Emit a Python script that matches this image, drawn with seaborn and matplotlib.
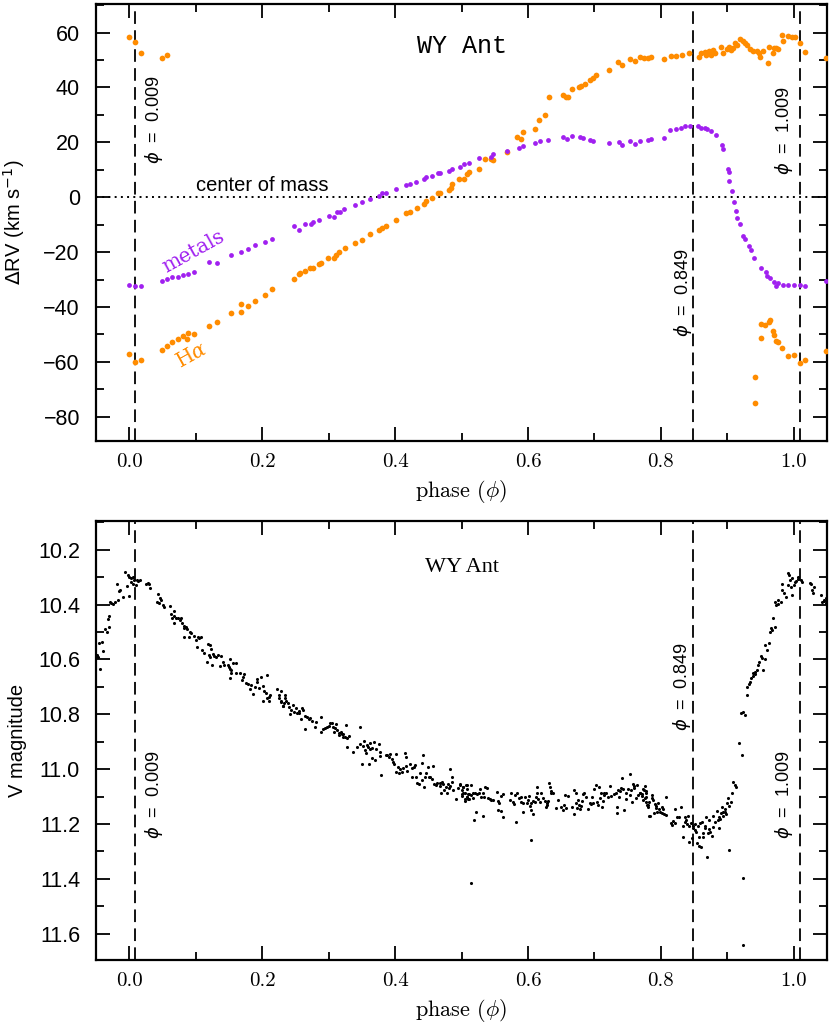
import numpy as np
import pandas as pd
import matplotlib
matplotlib.use("Agg")
import matplotlib.pyplot as plt
import seaborn as sns
from matplotlib.ticker import MultipleLocator, FuncFormatter

# ---- radial velocities (phase, km/s) ----
halpha = [
    (0.000, 58.3), (0.009, 56.4), (0.017, 52.7), (0.050, 50.8), (0.057, 52.0),
    (0.000, -57.2), (0.009, -60.2), (0.017, -59.3), (0.049, -55.8), (0.057, -54.2),
    (0.065, -52.6), (0.073, -51.6), (0.081, -50.6), (0.087, -51.8), (0.089, -49.6),
    (0.098, -50.0), (0.120, -46.8), (0.132, -45.4), (0.153, -42.3), (0.168, -41.7),
    (0.168, -39.0), (0.179, -39.8), (0.189, -37.8), (0.205, -35.5), (0.215, -33.4),
    (0.248, -29.8), (0.256, -28.1), (0.257, -27.6), (0.264, -26.8), (0.272, -25.7),
    (0.276, -25.7), (0.285, -24.5), (0.288, -23.9), (0.299, -22.1), (0.308, -22.3),
    (0.311, -21.2), (0.316, -20.1), (0.324, -18.5), (0.339, -16.8), (0.351, -15.4),
    (0.363, -13.4), (0.376, -12.0), (0.380, -11.1), (0.387, -10.5), (0.401, -8.2),
    (0.417, -5.9), (0.423, -5.2), (0.433, -3.9), (0.444, -2.4), (0.446, -1.5),
    (0.456, -0.2), (0.464, 1.7), (0.468, 1.7), (0.481, 2.7), (0.484, 3.2),
    (0.486, 4.9), (0.496, 6.6), (0.504, 6.5), (0.508, 8.3), (0.511, 9.3),
    (0.527, 10.2), (0.535, 14.1), (0.544, 13.9), (0.548, 13.4), (0.568, 16.5),
    (0.584, 22.1), (0.590, 21.4), (0.593, 23.6), (0.611, 24.9), (0.617, 28.3),
    (0.626, 30.1), (0.631, 36.6), (0.653, 37.4), (0.657, 36.6), (0.660, 36.7),
    (0.667, 39.3), (0.677, 40.0), (0.680, 40.7), (0.686, 41.4), (0.693, 42.8),
    (0.698, 43.3), (0.702, 44.6), (0.722, 46.4), (0.736, 49.3), (0.742, 48.1),
    (0.753, 50.5), (0.761, 49.6), (0.768, 51.1), (0.774, 50.9), (0.780, 50.7),
    (0.785, 51.0), (0.805, 50.5), (0.815, 51.5), (0.823, 51.5), (0.832, 52.0),
    (0.843, 52.4), (0.858, 51.1), (0.860, 52.7), (0.866, 52.9), (0.868, 51.7),
    (0.873, 53.3), (0.876, 51.7), (0.879, 53.7), (0.882, 52.5), (0.891, 54.7),
    (0.893, 52.5), (0.899, 53.9), (0.902, 54.7), (0.905, 53.6), (0.909, 54.4),
    (0.912, 56.1), (0.915, 55.4), (0.919, 57.6), (0.923, 57.0), (0.926, 56.1),
    (0.930, 55.4), (0.934, 53.9), (0.938, 53.1), (0.944, 53.1), (0.947, 52.5),
    (0.949, 51.1), (0.953, 53.2), (0.961, 48.8), (0.963, 54.9), (0.968, 52.7),
    (0.970, 54.2), (0.974, 54.2), (0.977, 53.9), (0.982, 59.0), (0.984, 56.8),
    (0.991, 58.6), (0.997, 58.4), (1.002, 58.4), (1.009, 56.2), (1.017, 52.8),
    (1.048, 50.8),
    (0.942, -65.4), (0.942, -74.9), (0.950, -51.4), (0.950, -46.3), (0.956, -46.6),
    (0.962, -45.4), (0.964, -44.8), (0.968, -48.9), (0.970, -50.2), (0.973, -52.3),
    (0.977, -52.7), (0.983, -54.8), (0.992, -58.0), (1.000, -57.3), (1.009, -60.3),
    (1.017, -59.4), (1.048, -55.9),
]

metals = [
    (0.000, -32.0), (0.009, -32.2), (0.017, -32.3), (0.050, -30.4), (0.057, -29.8),
    (0.065, -29.2), (0.073, -28.9), (0.081, -28.2), (0.089, -27.9), (0.097, -27.4),
    (0.120, -23.5), (0.132, -24.0), (0.153, -21.0), (0.168, -20.1), (0.179, -19.0),
    (0.189, -17.4), (0.205, -16.2), (0.215, -15.3), (0.248, -10.6), (0.256, -12.0),
    (0.265, -9.7), (0.273, -9.7), (0.276, -9.0), (0.286, -8.3), (0.300, -6.8),
    (0.308, -7.1), (0.312, -5.4), (0.317, -5.3), (0.323, -4.3), (0.339, -2.9),
    (0.351, -1.8), (0.363, -0.7), (0.376, 0.5), (0.380, 1.4), (0.387, 1.6),
    (0.402, 3.1), (0.417, 4.5), (0.422, 5.0), (0.432, 5.6), (0.444, 6.6),
    (0.447, 7.2), (0.456, 7.6), (0.464, 8.7), (0.468, 8.9), (0.481, 9.6),
    (0.485, 10.3), (0.498, 11.0), (0.504, 12.1), (0.511, 12.3), (0.527, 14.2),
    (0.544, 14.6), (0.548, 15.6), (0.568, 16.8), (0.587, 18.0), (0.593, 18.6),
    (0.611, 19.7), (0.618, 20.4), (0.630, 20.9), (0.653, 22.0), (0.659, 21.4),
    (0.667, 22.2), (0.678, 21.8), (0.683, 21.5), (0.693, 20.9), (0.698, 20.4),
    (0.722, 19.9), (0.737, 20.2), (0.741, 19.2), (0.754, 20.4), (0.761, 19.4),
    (0.768, 20.4), (0.780, 20.9), (0.785, 21.4), (0.805, 21.6), (0.814, 24.5),
    (0.823, 24.9), (0.831, 25.4), (0.837, 25.8), (0.844, 26.0), (0.856, 26.0),
    (0.860, 25.3), (0.866, 25.3), (0.870, 24.8), (0.876, 24.3), (0.883, 22.7),
    (0.892, 19.1), (0.894, 17.4), (0.901, 10.2), (0.903, 9.3), (0.903, 6.0),
    (0.907, 2.1), (0.910, -1.7), (0.913, -5.1), (0.915, -7.7), (0.919, -9.9),
    (0.924, -14.3), (0.926, -15.3), (0.932, -17.6), (0.935, -19.3), (0.940, -22.2),
    (0.950, -25.6), (0.958, -27.4), (0.960, -28.8), (0.964, -29.3), (0.970, -31.0),
    (0.973, -32.3), (0.977, -31.4), (0.984, -32.0), (0.991, -31.9), (1.000, -31.9),
    (1.009, -32.0), (1.017, -32.3), (1.048, -30.4),
]

# ---- V light curve (phase, mag) ----
v_early = [
    (-0.049, 10.584), (-0.047, 10.590), (-0.044, 10.636), (-0.045, 10.541), (-0.039, 10.568),
    (-0.041, 10.535), (-0.036, 10.490), (-0.033, 10.499), (-0.031, 10.483), (-0.032, 10.454),
    (-0.030, 10.442), (-0.027, 10.393), (-0.025, 10.399), (-0.029, 10.389), (-0.021, 10.389),
    (-0.017, 10.383), (-0.016, 10.351), (-0.019, 10.323), (-0.014, 10.347), (-0.010, 10.371),
    (-0.004, 10.332), (-0.006, 10.280), (-0.002, 10.292), (0.000, 10.298), (0.002, 10.304),
    (0.003, 10.317), (0.005, 10.298), (0.006, 10.325), (0.000, 10.369), (0.007, 10.310),
    (0.010, 10.329), (0.012, 10.310), (0.013, 10.314), (0.016, 10.310), (0.025, 10.323),
    (0.028, 10.320), (0.031, 10.341), (0.030, 10.325), (0.043, 10.362), (0.042, 10.389),
    (0.046, 10.377), (0.048, 10.383), (0.045, 10.393), (0.051, 10.402), (0.053, 10.408),
    (0.062, 10.405), (0.063, 10.434), (0.065, 10.447), (0.067, 10.422), (0.068, 10.442),
    (0.070, 10.450), (0.067, 10.468), (0.073, 10.450), (0.076, 10.456), (0.078, 10.447),
    (0.080, 10.466), (0.082, 10.478), (0.083, 10.487), (0.082, 10.519), (0.085, 10.481),
    (0.087, 10.489), (0.090, 10.517), (0.091, 10.499), (0.093, 10.505), (0.098, 10.515),
    (0.100, 10.529), (0.102, 10.553), (0.103, 10.517), (0.105, 10.523), (0.108, 10.519),
    (0.110, 10.566), (0.112, 10.575), (0.118, 10.545), (0.121, 10.547), (0.123, 10.560),
    (0.120, 10.584), (0.122, 10.590), (0.126, 10.580), (0.125, 10.620), (0.127, 10.588),
    (0.130, 10.592), (0.133, 10.584), (0.138, 10.588), (0.117, 10.608), (0.137, 10.624),
    (0.141, 10.608), (0.143, 10.620), (0.148, 10.620), (0.151, 10.600), (0.150, 10.626),
    (0.152, 10.636), (0.153, 10.639), (0.156, 10.612), (0.160, 10.614), (0.153, 10.651),
    (0.151, 10.669), (0.161, 10.648), (0.167, 10.651), (0.171, 10.663), (0.173, 10.653),
    (0.170, 10.675), (0.176, 10.687), (0.178, 10.689), (0.181, 10.709), (0.183, 10.693),
    (0.186, 10.726), (0.190, 10.699), (0.192, 10.673), (0.193, 10.681), (0.195, 10.705),
    (0.198, 10.663), (0.201, 10.697), (0.203, 10.714), (0.206, 10.721), (0.208, 10.657),
    (0.207, 10.742), (0.210, 10.736), (0.211, 10.750), (0.212, 10.730), (0.201, 10.750),
    (0.223, 10.709), (0.225, 10.730), (0.226, 10.742), (0.228, 10.750), (0.231, 10.770),
    (0.233, 10.758), (0.235, 10.742),
]

v_decline = [
    (0.228, 10.714), (0.229, 10.754), (0.232, 10.770), (0.234, 10.730), (0.236, 10.750),
    (0.239, 10.760), (0.241, 10.772), (0.242, 10.799), (0.244, 10.784), (0.246, 10.766),
    (0.248, 10.790), (0.251, 10.778), (0.252, 10.794), (0.255, 10.787), (0.256, 10.794),
    (0.258, 10.818), (0.260, 10.778), (0.261, 10.784), (0.265, 10.806), (0.265, 10.855),
    (0.267, 10.811), (0.270, 10.818), (0.272, 10.815), (0.275, 10.823), (0.280, 10.847),
    (0.281, 10.827), (0.288, 10.809), (0.288, 10.863), (0.291, 10.855), (0.295, 10.851),
    (0.298, 10.847), (0.301, 10.842), (0.302, 10.833), (0.305, 10.830), (0.307, 10.847),
    (0.308, 10.863), (0.310, 10.851), (0.311, 10.835), (0.313, 10.857), (0.315, 10.869),
    (0.316, 10.875), (0.318, 10.863), (0.320, 10.872), (0.321, 10.882), (0.322, 10.872),
    (0.325, 10.882), (0.326, 10.839), (0.327, 10.888), (0.330, 10.879), (0.328, 10.920),
    (0.336, 10.936), (0.343, 10.918), (0.347, 10.847), (0.348, 10.908), (0.350, 10.981),
    (0.352, 10.915), (0.353, 10.896), (0.355, 10.930), (0.356, 10.942), (0.358, 10.912),
    (0.360, 10.920), (0.361, 10.981), (0.362, 10.906), (0.363, 10.928), (0.365, 10.961),
    (0.366, 10.924), (0.368, 10.900), (0.370, 10.967), (0.371, 10.928), (0.376, 10.908),
    (0.377, 10.936), (0.378, 10.952), (0.379, 11.021), (0.386, 10.948), (0.388, 10.948),
    (0.391, 10.954), (0.392, 10.945), (0.396, 10.964), (0.397, 10.973), (0.398, 10.981),
    (0.401, 10.945), (0.402, 11.009), (0.405, 10.991), (0.406, 11.013), (0.408, 11.001),
    (0.410, 11.009), (0.412, 10.997), (0.415, 10.942), (0.416, 10.988), (0.417, 10.954),
    (0.418, 11.005), (0.422, 10.981), (0.425, 11.027), (0.426, 10.997), (0.428, 10.991),
    (0.430, 10.985), (0.432, 11.030), (0.433, 11.049), (0.436, 11.054), (0.437, 11.015),
    (0.440, 11.039), (0.441, 10.976), (0.442, 10.948), (0.443, 11.064), (0.445, 11.030),
    (0.447, 11.013), (0.450, 10.993), (0.451, 11.030), (0.453, 11.027), (0.455, 11.037),
    (0.457, 10.988), (0.458, 11.054), (0.461, 11.058), (0.463, 11.052), (0.467, 11.049),
    (0.468, 11.061), (0.470, 11.049), (0.471, 11.046), (0.472, 11.054), (0.469, 11.086),
    (0.473, 11.076), (0.476, 11.064), (0.478, 11.086), (0.480, 11.054), (0.481, 11.070),
    (0.482, 11.001), (0.483, 11.061), (0.485, 11.030), (0.486, 11.046), (0.487, 11.076),
    (0.492, 11.110), (0.495, 11.070), (0.497, 11.058), (0.500, 11.098), (0.502, 11.086),
    (0.503, 11.064), (0.505, 11.110), (0.507, 11.058), (0.508, 11.073), (0.509, 11.100),
    (0.510, 11.110), (0.512, 11.090),
]

v_standstill = [
    (0.498, 11.054), (0.500, 11.076), (0.501, 11.091), (0.503, 11.064), (0.505, 11.115),
    (0.506, 11.086), (0.508, 11.058), (0.509, 11.100), (0.510, 11.091), (0.511, 11.110),
    (0.514, 11.094), (0.515, 11.058), (0.517, 11.106), (0.518, 11.086), (0.519, 11.185),
    (0.520, 11.088), (0.522, 11.155), (0.524, 11.091), (0.527, 11.086), (0.528, 11.074),
    (0.529, 11.100), (0.532, 11.171), (0.533, 11.086), (0.534, 11.100), (0.535, 11.066),
    (0.538, 11.070), (0.540, 11.106), (0.543, 11.110), (0.545, 11.113), (0.548, 11.113),
    (0.554, 11.082), (0.555, 11.115), (0.555, 11.149), (0.557, 11.125), (0.559, 11.098),
    (0.560, 11.151), (0.562, 11.176), (0.562, 11.091), (0.573, 11.113), (0.575, 11.086),
    (0.578, 11.119), (0.579, 11.127), (0.580, 11.094), (0.582, 11.191), (0.583, 11.088),
    (0.587, 11.106), (0.589, 11.119), (0.590, 11.100), (0.592, 11.125), (0.593, 11.155),
    (0.595, 11.103), (0.598, 11.122), (0.600, 11.113), (0.602, 11.098), (0.603, 11.134),
    (0.604, 11.149), (0.604, 11.258), (0.605, 11.125), (0.607, 11.115), (0.608, 11.164),
    (0.610, 11.119), (0.612, 11.100), (0.613, 11.088), (0.614, 11.066), (0.615, 11.110),
    (0.618, 11.119), (0.620, 11.088), (0.623, 11.106), (0.625, 11.115), (0.627, 11.137),
    (0.628, 11.125), (0.629, 11.131), (0.630, 11.115), (0.632, 11.052), (0.633, 11.066),
    (0.634, 11.079), (0.635, 11.088), (0.637, 11.088), (0.642, 11.143), (0.645, 11.113),
    (0.650, 11.137), (0.653, 11.149), (0.654, 11.131), (0.655, 11.094), (0.657, 11.143),
    (0.660, 11.098), (0.667, 11.137), (0.669, 11.076), (0.670, 11.164), (0.672, 11.086),
    (0.673, 11.122), (0.674, 11.143), (0.675, 11.113), (0.677, 11.131), (0.678, 11.147),
    (0.680, 11.134), (0.682, 11.115), (0.683, 11.091), (0.684, 11.086), (0.688, 11.100),
    (0.690, 11.147), (0.693, 11.125), (0.695, 11.127), (0.697, 11.100), (0.698, 11.125),
    (0.700, 11.074), (0.702, 11.058), (0.704, 11.119), (0.705, 11.131), (0.707, 11.064),
    (0.708, 11.106), (0.710, 11.088), (0.712, 11.137), (0.713, 11.115), (0.714, 11.094),
    (0.715, 11.086), (0.718, 11.086), (0.720, 11.103), (0.723, 11.062), (0.725, 11.098),
    (0.730, 11.091), (0.733, 11.086), (0.734, 11.137), (0.734, 11.159), (0.735, 11.076),
    (0.737, 11.100), (0.738, 11.079), (0.740, 11.070), (0.742, 11.034), (0.743, 11.074),
    (0.745, 11.149), (0.747, 11.110), (0.748, 11.086), (0.750, 11.074), (0.753, 11.018),
    (0.754, 11.094), (0.755, 11.076), (0.757, 11.119), (0.758, 11.054), (0.759, 11.070),
    (0.760, 11.062), (0.763, 11.106), (0.764, 11.058), (0.766, 11.094), (0.768, 11.088),
    (0.771, 11.091), (0.773, 11.074), (0.776, 11.106), (0.777, 11.079), (0.778, 11.119),
    (0.779, 11.131), (0.781, 11.137), (0.782, 11.171), (0.514, 11.416),
]

v_minimum = [
    (0.769, 11.088), (0.771, 11.098), (0.773, 11.112), (0.774, 11.076), (0.776, 11.061),
    (0.777, 11.088), (0.778, 11.100), (0.781, 11.131), (0.782, 11.119), (0.783, 11.171),
    (0.786, 11.106), (0.787, 11.094), (0.788, 11.112), (0.789, 11.161), (0.791, 11.127),
    (0.792, 11.143), (0.793, 11.134), (0.794, 11.158), (0.796, 11.125), (0.797, 11.146),
    (0.799, 11.155), (0.801, 11.139), (0.802, 11.161), (0.803, 11.146), (0.804, 11.163),
    (0.807, 11.103), (0.808, 11.167), (0.816, 11.195), (0.817, 11.204), (0.818, 11.188),
    (0.821, 11.146), (0.822, 11.197), (0.824, 11.176), (0.827, 11.173), (0.831, 11.137),
    (0.833, 11.207), (0.834, 11.249), (0.836, 11.191), (0.837, 11.173), (0.838, 11.185),
    (0.839, 11.200), (0.841, 11.171), (0.842, 11.264), (0.843, 11.207), (0.846, 11.197),
    (0.847, 11.252), (0.848, 11.216), (0.849, 11.209), (0.851, 11.222), (0.852, 11.200),
    (0.853, 11.228), (0.854, 11.270), (0.856, 11.209), (0.857, 11.280), (0.858, 11.246),
    (0.859, 11.197), (0.861, 11.283), (0.862, 11.191), (0.863, 11.234), (0.864, 11.246),
    (0.866, 11.216), (0.867, 11.207), (0.868, 11.173), (0.869, 11.321), (0.871, 11.234),
    (0.872, 11.185), (0.873, 11.219), (0.874, 11.228), (0.877, 11.244), (0.878, 11.171),
    (0.879, 11.210), (0.881, 11.191), (0.884, 11.151), (0.886, 11.185), (0.887, 11.176),
    (0.888, 11.216), (0.889, 11.183), (0.891, 11.161), (0.892, 11.137), (0.893, 11.155),
    (0.894, 11.171), (0.896, 11.155), (0.897, 11.146), (0.898, 11.163), (0.899, 11.125),
    (0.901, 11.106), (0.902, 11.134), (0.903, 11.295), (0.906, 11.119), (0.907, 11.086),
    (0.909, 11.046), (0.911, 11.058), (0.913, 11.066),
]

v_rise = [
    (0.917, 10.906), (0.923, 11.398), (0.923, 11.641), (0.922, 10.948), (0.921, 10.796),
    (0.924, 10.790), (0.927, 10.803), (0.929, 10.730), (0.929, 10.702), (0.932, 10.690),
    (0.934, 10.681), (0.936, 10.669), (0.938, 10.651), (0.939, 10.660), (0.941, 10.645),
    (0.942, 10.653), (0.944, 10.639), (0.946, 10.620), (0.948, 10.608), (0.951, 10.588),
    (0.952, 10.596), (0.954, 10.639), (0.956, 10.600), (0.957, 10.548), (0.959, 10.566),
    (0.962, 10.541), (0.964, 10.499), (0.966, 10.487), (0.967, 10.493), (0.969, 10.447),
    (0.971, 10.481), (0.972, 10.389), (0.973, 10.402), (0.976, 10.383), (0.977, 10.398),
    (0.981, 10.389), (0.982, 10.347), (0.983, 10.323), (0.986, 10.359), (0.988, 10.371),
    (0.991, 10.329), (0.992, 10.284), (0.993, 10.292), (0.994, 10.310), (0.996, 10.335),
    (0.997, 10.304), (0.998, 10.365), (1.001, 10.329), (1.002, 10.317), (1.003, 10.313),
    (1.006, 10.308), (1.007, 10.298), (1.011, 10.310), (1.012, 10.317), (1.024, 10.320),
    (1.026, 10.323), (1.028, 10.347), (1.029, 10.357), (1.030, 10.335), (1.041, 10.365),
    (1.043, 10.389), (1.045, 10.386), (1.046, 10.383), (1.048, 10.377), (1.049, 10.393),
]

marker_phases = [0.009, 0.849, 1.009]
marker_labels = [r"$\phi$  =  0.009", r"$\phi$  =  0.849", r"$\phi$  =  1.009"]

ORANGE = "#FF8C00"
PURPLE = "#A020F0"

rv_ha = pd.DataFrame(halpha, columns=["phase", "rv"])
rv_met = pd.DataFrame(metals, columns=["phase", "rv"])
lc = pd.DataFrame(v_early + v_decline + v_standstill + v_minimum + v_rise,
                  columns=["phase", "mag"])

sns.set_style("ticks")
plt.rcParams["font.family"] = ["Liberation Sans", "DejaVu Sans"]
plt.rcParams["mathtext.fontset"] = "cm"
for key in ["text.color", "axes.labelcolor", "xtick.color", "ytick.color", "axes.edgecolor"]:
    plt.rcParams[key] = "black"

fig = plt.figure(figsize=(8.3, 10.24), dpi=100)
ax1 = fig.add_axes([96 / 830, 1 - 441 / 1024, 731 / 830, 437 / 1024])
ax2 = fig.add_axes([96 / 830, 1 - 960 / 1024, 731 / 830, 439 / 1024])

# top: radial velocities
sns.scatterplot(data=rv_ha, x="phase", y="rv", ax=ax1, color=ORANGE, s=17,
                linewidth=0, legend=False, zorder=3)
sns.scatterplot(data=rv_met, x="phase", y="rv", ax=ax1, color=PURPLE, s=12,
                linewidth=0, legend=False, zorder=3)
ax1.axhline(0, color="k", lw=1.4, ls=(0, (1, 2.2)), zorder=2)
ax1.set_xlim(-0.05, 1.05)
ax1.set_ylim(-88.8, 70.4)
ax1.yaxis.set_major_locator(MultipleLocator(20))
ax1.yaxis.set_minor_locator(MultipleLocator(10))
ax1.yaxis.set_major_formatter(FuncFormatter(lambda v, p: f"{v:.0f}".replace("-", "\u2212")))
ax1.set_ylabel(r"$\Delta$RV (km s$^{-1}$)", fontsize=14.5, math_fontfamily="dejavusans")
ax1.text(0.5, 0.904, "WY Ant", transform=ax1.transAxes, ha="center", va="center",
         family="Liberation Mono", fontsize=18)
ax1.text(0.2, 1.0, "center of mass", ha="center", va="bottom", fontsize=14.5)
ax1.text(0.096, -19.7, "metals", color=PURPLE, rotation=29, ha="center", va="center",
         family="DejaVu Serif", fontsize=14.5)
ax1.text(0.094, -57.8, r"H$\alpha$", color=ORANGE, rotation=29, ha="center", va="center",
         family="DejaVu Serif", fontsize=14.5, math_fontfamily="dejavuserif")
rv_text_pos = [(0.038, 28.4), (0.833, -34.6), (0.986, 24.1)]
for (tx, ty), lab in zip(rv_text_pos, marker_labels):
    ax1.text(tx, ty, lab, rotation=90, ha="center", va="center", fontsize=13,
             math_fontfamily="dejavusans")

# bottom: V light curve
sns.scatterplot(data=lc, x="phase", y="mag", ax=ax2, color="black", s=5,
                linewidth=0, legend=False, zorder=3)
ax2.set_xlim(-0.05, 1.05)
ax2.set_ylim(11.696, 10.095)
ax2.yaxis.set_major_locator(MultipleLocator(0.2))
ax2.yaxis.set_minor_locator(MultipleLocator(0.1))
ax2.yaxis.set_major_formatter(FuncFormatter(lambda v, p: f"{v:.1f}"))
ax2.set_ylabel("V magnitude", fontsize=14.5)
ax2.text(0.5, 0.895, "WY Ant", transform=ax2.transAxes, ha="center", va="center",
         family="Liberation Serif", fontsize=16)
lc_text_pos = [(0.038, 11.094), (0.832, 10.70), (0.986, 11.094)]
for (tx, ty), lab in zip(lc_text_pos, marker_labels):
    ax2.text(tx, ty, lab, rotation=90, ha="center", va="center", fontsize=13,
             math_fontfamily="dejavusans")

for ax in (ax1, ax2):
    for ph in marker_phases:
        ax.axvline(ph, color="k", lw=1.3, ls=(0, (7, 3.5)), zorder=2)
    ax.xaxis.set_major_locator(MultipleLocator(0.2))
    ax.xaxis.set_minor_locator(MultipleLocator(0.1))
    ax.xaxis.set_major_formatter(FuncFormatter(lambda v, p: f"{v:.1f}"))
    ax.set_xlabel(r"phase ($\phi$)", fontsize=16, family="cmr10")
    ax.xaxis.set_label_coords(0.5, -0.085)
    ax.yaxis.set_label_coords(-0.095, 0.5)
    ax.tick_params(which="both", direction="in", top=True, right=True, width=1.3)
    ax.tick_params(which="major", length=10)
    ax.tick_params(which="minor", length=6)
    ax.tick_params(axis="y", labelsize=15.5, pad=11.5)
    ax.tick_params(axis="x", labelsize=15, pad=9)
    for lab in ax.get_xticklabels():
        lab.set_family("cmr10")
    for sp in ax.spines.values():
        sp.set_linewidth(1.6)

fig.savefig("out.png", dpi=100)
